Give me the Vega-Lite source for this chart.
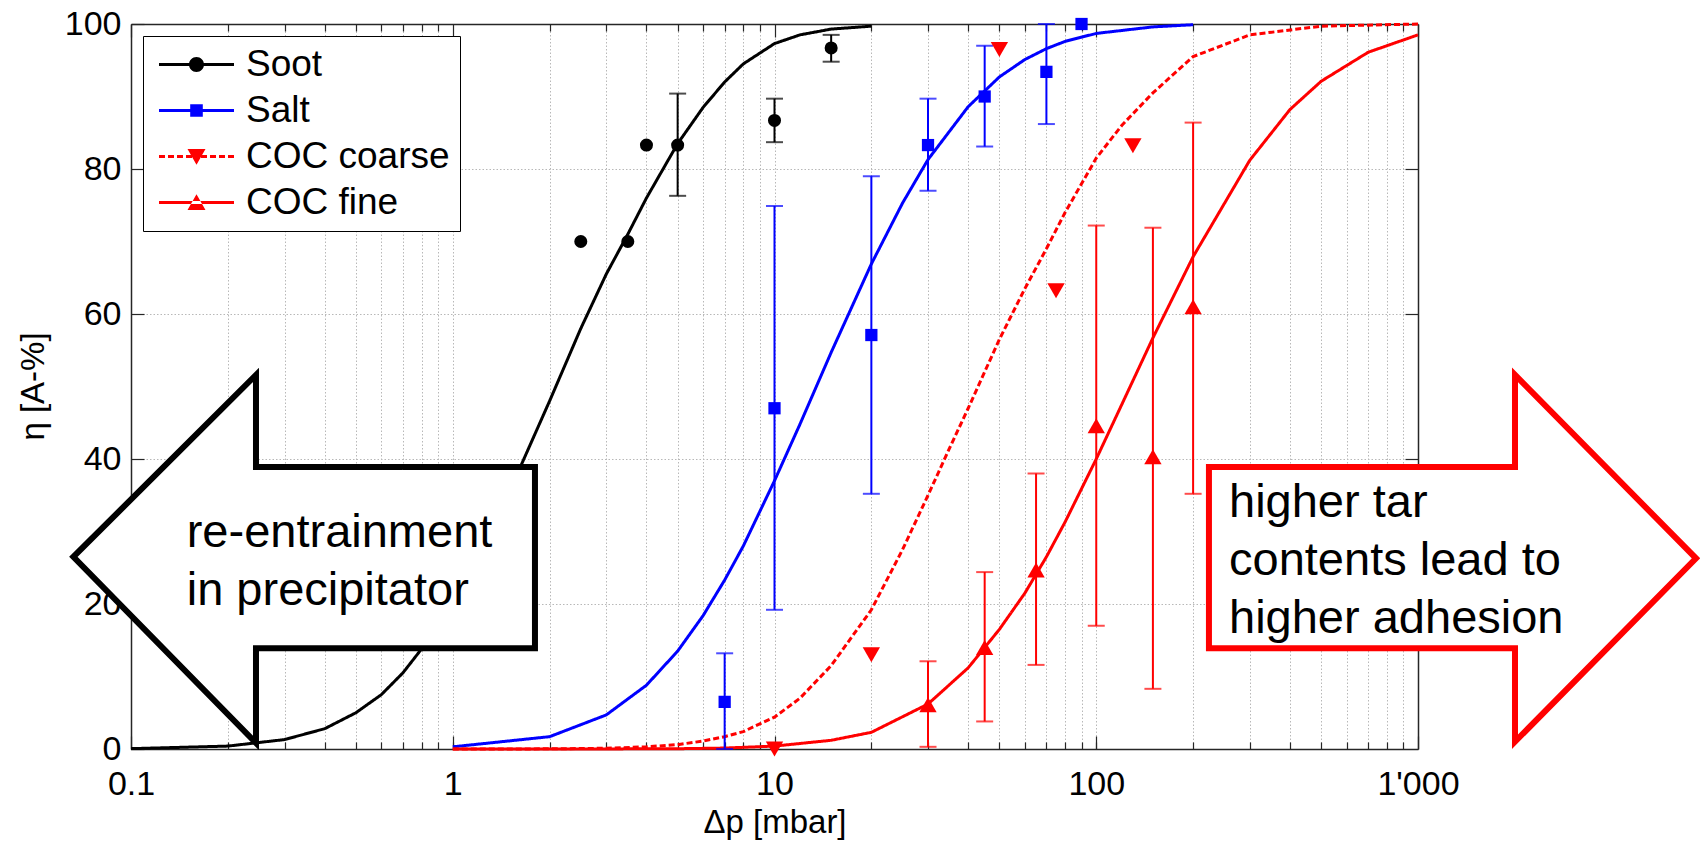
{
  "$schema": "https://vega.github.io/schema/vega-lite/v6.json",
  "width": 1287,
  "height": 725,
  "autosize": {"type": "none"},
  "padding": {"left": 131, "top": 24, "right": 282, "bottom": 93},
  "background": "white",
  "config": {
    "view": {"stroke": null},
    "font": "Liberation Sans",
    "axis": {
      "labelFont": "Liberation Sans",
      "labelFontSize": 34,
      "labelColor": "#000000",
      "titleFont": "Liberation Sans",
      "titleFontSize": 33,
      "titleFontWeight": "normal",
      "titleColor": "#000000",
      "tickColor": "#262626",
      "tickWidth": 1.2,
      "domainColor": "#262626",
      "domainWidth": 1.5,
      "gridColor": "#b8b8b8",
      "gridDash": [1.5, 2],
      "gridWidth": 1,
      "labelFlush": false,
      "labelOverlap": false
    }
  },
  "datasets": {
    "curves": [
      {"series": "Soot", "x": 0.1, "y": 0.05}, {"series": "Soot", "x": 0.2, "y": 0.4}, {"series": "Soot", "x": 0.3, "y": 1.3},
      {"series": "Soot", "x": 0.4, "y": 2.8}, {"series": "Soot", "x": 0.5, "y": 5}, {"series": "Soot", "x": 0.6, "y": 7.5},
      {"series": "Soot", "x": 0.7, "y": 10.5}, {"series": "Soot", "x": 0.8, "y": 13.8}, {"series": "Soot", "x": 0.9, "y": 17.3},
      {"series": "Soot", "x": 1, "y": 21}, {"series": "Soot", "x": 1.2, "y": 27}, {"series": "Soot", "x": 1.5, "y": 35.5},
      {"series": "Soot", "x": 2, "y": 48}, {"series": "Soot", "x": 2.5, "y": 58}, {"series": "Soot", "x": 3, "y": 65.5},
      {"series": "Soot", "x": 3.5, "y": 71}, {"series": "Soot", "x": 4, "y": 76}, {"series": "Soot", "x": 5, "y": 83.5},
      {"series": "Soot", "x": 6, "y": 88.5}, {"series": "Soot", "x": 7, "y": 92}, {"series": "Soot", "x": 8, "y": 94.5},
      {"series": "Soot", "x": 10, "y": 97.3}, {"series": "Soot", "x": 12, "y": 98.5}, {"series": "Soot", "x": 15, "y": 99.3},
      {"series": "Soot", "x": 20, "y": 99.7},
      {"series": "Salt", "x": 1, "y": 0.3}, {"series": "Salt", "x": 2, "y": 1.7}, {"series": "Salt", "x": 3, "y": 4.7},
      {"series": "Salt", "x": 4, "y": 8.8}, {"series": "Salt", "x": 5, "y": 13.5}, {"series": "Salt", "x": 6, "y": 18.4},
      {"series": "Salt", "x": 7, "y": 23.3}, {"series": "Salt", "x": 8, "y": 28}, {"series": "Salt", "x": 10, "y": 37},
      {"series": "Salt", "x": 12, "y": 44.8}, {"series": "Salt", "x": 15, "y": 54.7}, {"series": "Salt", "x": 20, "y": 66.9},
      {"series": "Salt", "x": 25, "y": 75.3}, {"series": "Salt", "x": 30, "y": 81.3}, {"series": "Salt", "x": 40, "y": 88.6},
      {"series": "Salt", "x": 50, "y": 92.7}, {"series": "Salt", "x": 60, "y": 95.1}, {"series": "Salt", "x": 70, "y": 96.6},
      {"series": "Salt", "x": 80, "y": 97.6}, {"series": "Salt", "x": 100, "y": 98.7}, {"series": "Salt", "x": 150, "y": 99.6},
      {"series": "Salt", "x": 200, "y": 99.9},
      {"series": "COC coarse", "x": 1, "y": 0}, {"series": "COC coarse", "x": 2, "y": 0.02}, {"series": "COC coarse", "x": 3, "y": 0.1},
      {"series": "COC coarse", "x": 4, "y": 0.3}, {"series": "COC coarse", "x": 5, "y": 0.6}, {"series": "COC coarse", "x": 6, "y": 1.1},
      {"series": "COC coarse", "x": 7, "y": 1.7}, {"series": "COC coarse", "x": 8, "y": 2.4}, {"series": "COC coarse", "x": 10, "y": 4.4},
      {"series": "COC coarse", "x": 12, "y": 7}, {"series": "COC coarse", "x": 15, "y": 11.5}, {"series": "COC coarse", "x": 20, "y": 19.2},
      {"series": "COC coarse", "x": 25, "y": 27.5}, {"series": "COC coarse", "x": 30, "y": 35}, {"series": "COC coarse", "x": 35, "y": 41.5},
      {"series": "COC coarse", "x": 40, "y": 47}, {"series": "COC coarse", "x": 50, "y": 56.5}, {"series": "COC coarse", "x": 60, "y": 63.5},
      {"series": "COC coarse", "x": 70, "y": 69}, {"series": "COC coarse", "x": 80, "y": 74}, {"series": "COC coarse", "x": 100, "y": 81.5},
      {"series": "COC coarse", "x": 120, "y": 86}, {"series": "COC coarse", "x": 150, "y": 90.5}, {"series": "COC coarse", "x": 200, "y": 95.5},
      {"series": "COC coarse", "x": 300, "y": 98.5}, {"series": "COC coarse", "x": 500, "y": 99.7}, {"series": "COC coarse", "x": 1000, "y": 100},
      {"series": "COC fine", "x": 1, "y": 0}, {"series": "COC fine", "x": 2, "y": 0}, {"series": "COC fine", "x": 3, "y": 0.01},
      {"series": "COC fine", "x": 5, "y": 0.04}, {"series": "COC fine", "x": 7, "y": 0.13}, {"series": "COC fine", "x": 10, "y": 0.4},
      {"series": "COC fine", "x": 15, "y": 1.2}, {"series": "COC fine", "x": 20, "y": 2.3}, {"series": "COC fine", "x": 30, "y": 6.2},
      {"series": "COC fine", "x": 40, "y": 11.2}, {"series": "COC fine", "x": 50, "y": 16.5}, {"series": "COC fine", "x": 60, "y": 21.5},
      {"series": "COC fine", "x": 70, "y": 26.5}, {"series": "COC fine", "x": 80, "y": 31.3}, {"series": "COC fine", "x": 100, "y": 40},
      {"series": "COC fine", "x": 120, "y": 47.5}, {"series": "COC fine", "x": 150, "y": 56.7}, {"series": "COC fine", "x": 200, "y": 67.9},
      {"series": "COC fine", "x": 300, "y": 81.2}, {"series": "COC fine", "x": 400, "y": 88.2}, {"series": "COC fine", "x": 500, "y": 92.1},
      {"series": "COC fine", "x": 700, "y": 96.1}, {"series": "COC fine", "x": 1000, "y": 98.5}
    ],
    "points": [
      {"series": "Soot", "x": 2.5, "y": 70}, {"series": "Soot", "x": 3.5, "y": 70}, {"series": "Soot", "x": 4, "y": 83.3},
      {"series": "Soot", "x": 5, "y": 83.3}, {"series": "Soot", "x": 10, "y": 86.7}, {"series": "Soot", "x": 15, "y": 96.7},
      {"series": "Salt", "x": 7, "y": 6.5}, {"series": "Salt", "x": 10, "y": 47}, {"series": "Salt", "x": 20, "y": 57.1},
      {"series": "Salt", "x": 30, "y": 83.3}, {"series": "Salt", "x": 45, "y": 90}, {"series": "Salt", "x": 70, "y": 93.4},
      {"series": "Salt", "x": 90, "y": 100},
      {"series": "COC coarse", "x": 10, "y": 0}, {"series": "COC coarse", "x": 20, "y": 13}, {"series": "COC coarse", "x": 50, "y": 96.5},
      {"series": "COC coarse", "x": 75, "y": 63.2}, {"series": "COC coarse", "x": 130, "y": 83.2},
      {"series": "COC fine", "x": 30, "y": 6.1}, {"series": "COC fine", "x": 45, "y": 14}, {"series": "COC fine", "x": 65, "y": 24.7},
      {"series": "COC fine", "x": 100, "y": 44.6}, {"series": "COC fine", "x": 150, "y": 40.3}, {"series": "COC fine", "x": 200, "y": 61}
    ],
    "errs": [
      {"series": "Soot", "x": 5, "lo": 76.3, "hi": 90.4}, {"series": "Soot", "x": 10, "lo": 83.7, "hi": 89.7},
      {"series": "Soot", "x": 15, "lo": 94.8, "hi": 98.5},
      {"series": "Salt", "x": 7, "lo": 0, "hi": 13.2}, {"series": "Salt", "x": 10, "lo": 19.2, "hi": 74.9},
      {"series": "Salt", "x": 20, "lo": 35.2, "hi": 79}, {"series": "Salt", "x": 30, "lo": 77, "hi": 89.7},
      {"series": "Salt", "x": 45, "lo": 83.1, "hi": 97}, {"series": "Salt", "x": 70, "lo": 86.2, "hi": 100},
      {"series": "COC fine", "x": 30, "lo": 0.3, "hi": 12.1}, {"series": "COC fine", "x": 45, "lo": 3.8, "hi": 24.4},
      {"series": "COC fine", "x": 65, "lo": 11.6, "hi": 38}, {"series": "COC fine", "x": 100, "lo": 17, "hi": 72.2},
      {"series": "COC fine", "x": 150, "lo": 8.3, "hi": 71.9}, {"series": "COC fine", "x": 200, "lo": 35.2, "hi": 86.4}
    ],
    "arrows": [
      {"arrow": "left", "o": 0, "x": 0.7, "y": 38.9}, {"arrow": "left", "o": 1, "x": 1.801, "y": 38.9},
      {"arrow": "left", "o": 2, "x": 1.801, "y": 13.9}, {"arrow": "left", "o": 3, "x": 0.2446, "y": 13.9},
      {"arrow": "left", "o": 4, "x": 0.2446, "y": 0.83}, {"arrow": "left", "o": 5, "x": 0.0662, "y": 26.5},
      {"arrow": "left", "o": 6, "x": 0.2446, "y": 51.6}, {"arrow": "left", "o": 7, "x": 0.2446, "y": 38.9},
      {"arrow": "left", "o": 8, "x": 0.7, "y": 38.9},
      {"arrow": "right", "o": 0, "x": 600, "y": 38.9}, {"arrow": "right", "o": 1, "x": 2002, "y": 38.9},
      {"arrow": "right", "o": 2, "x": 2002, "y": 51.6}, {"arrow": "right", "o": 3, "x": 7311, "y": 26.3},
      {"arrow": "right", "o": 4, "x": 2002, "y": 1.0}, {"arrow": "right", "o": 5, "x": 2002, "y": 13.9},
      {"arrow": "right", "o": 6, "x": 224, "y": 13.9}, {"arrow": "right", "o": 7, "x": 224, "y": 38.9},
      {"arrow": "right", "o": 8, "x": 600, "y": 38.9}
    ],
    "notes": [
      {"x": 0.149, "y": 27.8, "text": "re-entrainment"},
      {"x": 0.149, "y": 19.9, "text": "in precipitator"},
      {"x": 258.6, "y": 32.0, "text": "higher tar"},
      {"x": 258.6, "y": 24.0, "text": "contents lead to"},
      {"x": 258.6, "y": 16.0, "text": "higher adhesion"}
    ]
  },
  "resolve": {"axis": {"x": "independent", "y": "independent"}},
  "layer": [
    {
      "data": {"name": "curves"},
      "mark": {"type": "line", "strokeWidth": 3},
      "encoding": {
        "x": {
          "field": "x", "type": "quantitative",
          "scale": {"type": "log", "domain": [0.1, 1000], "nice": false},
          "axis": {
            "orient": "bottom",
            "values": [0.1, 1, 10, 100, 1000],
            "labelExpr": "datum.value >= 1000 ? \"1'000\" : (datum.value < 1 ? '0.1' : format(datum.value, 'd'))",
            "tickSize": -13,
            "labelPadding": 31,
            "grid": false,
            "domain": true,
            "title": "Δp [mbar]",
            "titleBaseline": "alphabetic",
            "titleY": 83
          }
        },
        "y": {
          "field": "y", "type": "quantitative",
          "scale": {"domain": [0, 100], "nice": false, "zero": false},
          "axis": {
            "orient": "left",
            "values": [0, 20, 40, 60, 80, 100],
            "tickSize": -13,
            "labelPadding": 23,
            "grid": false,
            "domain": true,
            "title": "η [A-%]",
            "titleAngle": -90,
            "titleBaseline": "middle",
            "titleX": -98,
            "titleY": 362
          }
        },
        "color": {
          "field": "series", "type": "nominal",
          "scale": {"domain": ["Soot", "Salt", "COC coarse", "COC fine"], "range": ["#000000", "#0000ff", "#ff0000", "#ff0000"]},
          "legend": {
            "title": null,
            "orient": "top-left",
            "offset": 12,
            "padding": 10,
            "rowPadding": 8,
            "strokeColor": "#000000",
            "fillColor": "#ffffff",
            "cornerRadius": 0,
            "labelFont": "Liberation Sans",
            "labelFontSize": 37,
            "labelColor": "#000000",
            "labelLimit": 400,
            "symbolSize": 900,
            "symbolStrokeWidth": 0,
            "symbolOffset": 25,
            "labelOffset": 31,
            "symbolOpacity": 1,
            "symbolType": {"expr": "datum.value === 'Soot' ? 'M-2.5,-0.095L2.5,-0.095L2.5,0.095L-2.5,0.095ZM0.5,0A0.5,0.5,0,1,1,-0.5,0A0.5,0.5,0,1,1,0.5,0Z' : datum.value === 'Salt' ? 'M-2.5,-0.095L2.5,-0.095L2.5,0.095L-2.5,0.095ZM-0.42,-0.42L0.42,-0.42L0.42,0.42L-0.42,0.42Z' : datum.value === 'COC coarse' ? 'M-2.5,-0.095L-2.1,-0.095L-2.1,0.095L-2.5,0.095ZM-1.9,-0.095L-1.5,-0.095L-1.5,0.095L-1.9,0.095ZM-1.3,-0.095L-0.9,-0.095L-0.9,0.095L-1.3,0.095ZM-0.7,-0.095L-0.3,-0.095L-0.3,0.095L-0.7,0.095ZM0.3,-0.095L0.7,-0.095L0.7,0.095L0.3,0.095ZM0.9,-0.095L1.3,-0.095L1.3,0.095L0.9,0.095ZM1.5,-0.095L1.9,-0.095L1.9,0.095L1.5,0.095ZM2.1,-0.095L2.5,-0.095L2.5,0.095L2.1,0.095ZM-0.6,-0.5L0.6,-0.5L0,0.55Z' : 'M-2.5,-0.095L2.5,-0.095L2.5,0.095L-2.5,0.095ZM-0.6,0.5L0.6,0.5L0,-0.55Z'"},
            "symbolFillColor": {"expr": "datum.value === 'Soot' ? '#000000' : datum.value === 'Salt' ? '#0000ff' : '#ff0000'"},
            "symbolStrokeColor": {"expr": "datum.value === 'Soot' ? '#000000' : datum.value === 'Salt' ? '#0000ff' : '#ff0000'"}
          }
        },
        "strokeDash": {
          "field": "series", "type": "nominal",
          "scale": {"domain": ["COC coarse", "Soot", "Salt", "COC fine"], "range": [[6, 3], [1, 0], [1, 0], [1, 0]]},
          "legend": null
        }
      }
    },
    {
      "data": {"name": "errs"},
      "mark": {"type": "rule", "strokeWidth": 2},
      "encoding": {
        "x": {
          "field": "x", "type": "quantitative",
          "axis": {
            "orient": "bottom",
            "values": [0.2, 0.3, 0.4, 0.5, 0.6, 0.7, 0.8, 0.9, 1, 2, 3, 4, 5, 6, 7, 8, 9, 10, 20, 30, 40, 50, 60, 70, 80, 90, 100, 200, 300, 400, 500, 600, 700, 800, 900],
            "tickSize": -7,
            "labels": false,
            "domain": false,
            "grid": true,
            "title": null
          }
        },
        "y": {
          "field": "lo", "type": "quantitative",
          "axis": {
            "orient": "right",
            "values": [20, 40, 60, 80],
            "tickSize": -13,
            "labels": false,
            "domain": true,
            "grid": true,
            "title": null
          }
        },
        "y2": {"field": "hi"},
        "color": {"field": "series", "type": "nominal", "legend": null}
      }
    },
    {
      "data": {"name": "errs"},
      "mark": {"type": "tick", "orient": "horizontal", "size": 17, "thickness": 2},
      "encoding": {
        "x": {
          "field": "x", "type": "quantitative",
          "axis": {
            "orient": "top",
            "values": [0.1, 1, 10, 100, 1000],
            "tickSize": -13,
            "labels": false,
            "domain": true,
            "grid": false,
            "title": null
          }
        },
        "y": {"field": "lo", "type": "quantitative", "axis": null},
        "color": {"field": "series", "type": "nominal", "legend": null}
      }
    },
    {
      "data": {"name": "errs"},
      "mark": {"type": "tick", "orient": "horizontal", "size": 17, "thickness": 2},
      "encoding": {
        "x": {
          "field": "x", "type": "quantitative",
          "axis": {
            "orient": "top",
            "values": [0.2, 0.3, 0.4, 0.5, 0.6, 0.7, 0.8, 0.9, 2, 3, 4, 5, 6, 7, 8, 9, 20, 30, 40, 50, 60, 70, 80, 90, 200, 300, 400, 500, 600, 700, 800, 900],
            "tickSize": -7,
            "labels": false,
            "domain": false,
            "grid": false,
            "title": null
          }
        },
        "y": {"field": "hi", "type": "quantitative", "axis": null},
        "color": {"field": "series", "type": "nominal", "legend": null}
      }
    },
    {
      "data": {"name": "points"},
      "mark": {"type": "point", "filled": true, "opacity": 1, "strokeWidth": 0},
      "encoding": {
        "x": {"field": "x", "type": "quantitative", "axis": null},
        "y": {"field": "y", "type": "quantitative", "axis": null},
        "color": {"field": "series", "type": "nominal", "legend": null},
        "shape": {
          "field": "series", "type": "nominal",
          "scale": {"domain": ["Salt", "Soot", "COC fine", "COC coarse"], "range": ["square", "circle", "triangle-up", "triangle-down"]},
          "legend": null
        },
        "size": {
          "field": "series", "type": "nominal",
          "scale": {"type": "ordinal", "domain": ["COC fine", "COC coarse", "Salt", "Soot"], "range": [300, 300, 150, 170]},
          "legend": null
        }
      }
    },
    {
      "data": {"name": "arrows"},
      "mark": {"type": "line", "fill": "#ffffff", "strokeWidth": 6, "strokeJoin": "miter", "strokeMiterLimit": 10},
      "encoding": {
        "x": {"field": "x", "type": "quantitative", "axis": null},
        "y": {"field": "y", "type": "quantitative", "axis": null},
        "order": {"field": "o", "type": "quantitative"},
        "stroke": {
          "field": "arrow", "type": "nominal",
          "scale": {"domain": ["left", "right"], "range": ["#000000", "#ff0000"]},
          "legend": null
        }
      }
    },
    {
      "data": {"name": "notes"},
      "mark": {"type": "text", "align": "left", "baseline": "alphabetic", "font": "Liberation Sans", "fontSize": 47, "color": "#000000"},
      "encoding": {
        "x": {"field": "x", "type": "quantitative", "axis": null},
        "y": {"field": "y", "type": "quantitative", "axis": null},
        "text": {"field": "text", "type": "nominal"}
      }
    }
  ]
}
